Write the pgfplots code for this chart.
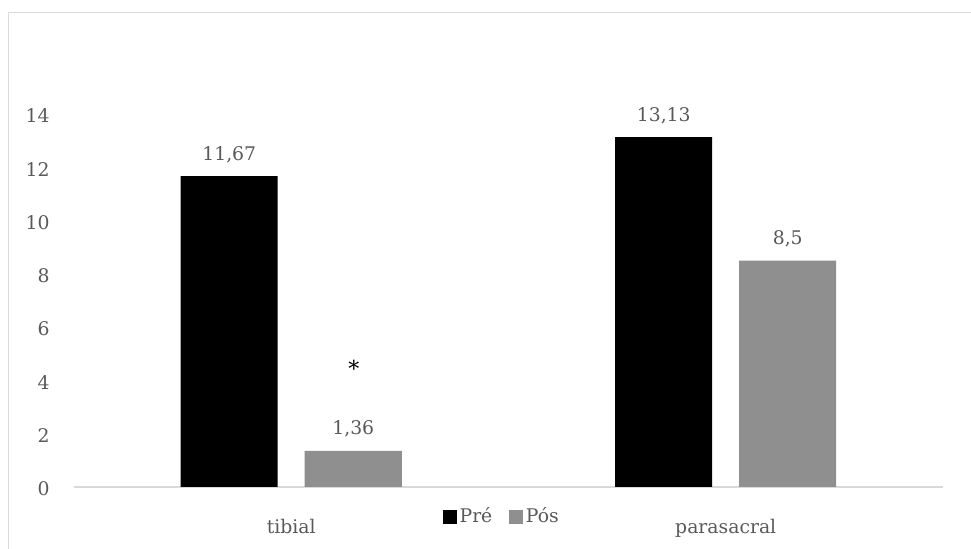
\documentclass[border=0pt]{standalone}
\usepackage{fontspec}
\setmainfont{DejaVu Serif}
\usepackage{pgfplots}
\pgfplotsset{compat=1.18}
\definecolor{txtgray}{HTML}{595959}
\definecolor{linegray}{HTML}{D9D9D9}
\definecolor{barpos}{HTML}{8F8F8F}
\begin{document}
\begin{tikzpicture}[font=\fontsize{9.4pt}{11pt}\selectfont]
\useasboundingbox (0,0) rectangle (485.5pt,274.5pt);
\draw[linegray, line width=0.8pt] (4.25pt,0) -- (4.25pt,268.25pt) -- (485.5pt,268.25pt);
\begin{axis}[
    at={(37pt,31pt)}, anchor=south west,
    scale only axis,
    width=434.5pt, height=186.5pt,
    xmin=-0.5, xmax=1.5,
    ymin=0, ymax=14,
    ytick={0,2,...,14},
    xtick={0,1},
    xticklabels={tibial, parasacral},
    axis line style={draw=none},
    major tick length=0pt,
    tick label style={text=txtgray, inner sep=0pt},
    yticklabel style={xshift=-12pt, yshift=-1pt},
    xticklabel style={anchor=north, yshift=-16pt},
    /pgf/number format/assume math mode=true,
    ybar=13.5pt,
    bar width=48.5pt,
    clip=false,
    point meta=explicit symbolic,
    nodes near coords,
    nodes near coords style={anchor=base, inner sep=0pt, yshift=8pt, text=txtgray},
    legend style={at={(0.493,-0.080)}, anchor=center, draw=none, fill=none,
        legend columns=2, text=txtgray, inner sep=0pt,
        /tikz/every even column/.append style={column sep=7pt},
        nodes={inner sep=1.5pt}},
    legend image code/.code={\fill[#1] (0pt,-3.4pt) rectangle (6.8pt,3.4pt);},
]
\draw[linegray, line width=0.8pt] (axis cs:-0.5,0) -- (axis cs:1.5,0);
\addplot[fill=black, draw=none] coordinates {(0,11.67) [11,67] (1,13.13) [13,13]};
\addplot[fill=barpos, draw=none] coordinates {(0,1.36) [1,36] (1,8.5) [8,5]};
\legend{Pré, Pós}
\node[anchor=base, inner sep=0pt, text=black, xshift=31.25pt, font=\fontsize{11pt}{13pt}\selectfont] at (axis cs:0,4.15) {*};
\end{axis}
\end{tikzpicture}
\end{document}
